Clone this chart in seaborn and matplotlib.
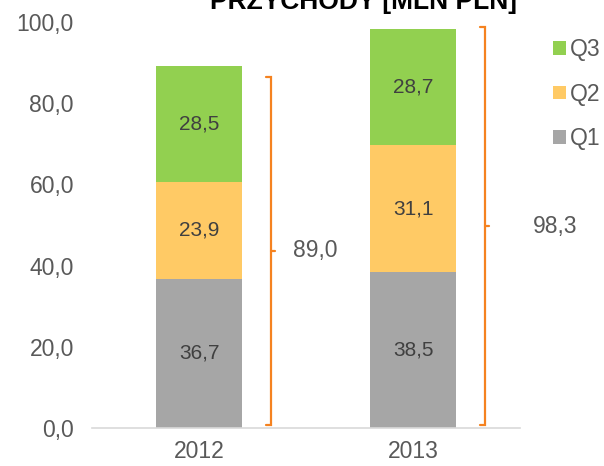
import matplotlib

matplotlib.use("Agg")
import matplotlib.pyplot as plt
from matplotlib.patches import Patch
import numpy as np
import pandas as pd
import seaborn as sns


YEARS = ["2012", "2013"]
Q1 = [36.7, 38.5]
Q2 = [23.9, 31.1]
Q3 = [28.5, 28.7]
TOTALS = [89.0, 98.3]
# bracket extents (the 2012 one stops short of the bar top)
BRACKET_LOW = [0.7, 0.7]
BRACKET_HIGH = [86.5, 98.8]
Y_TICKS = [0, 20, 40, 60, 80, 100]

COLORS = {"Q1": "#A6A6A6", "Q2": "#FFCA65", "Q3": "#92D050"}
ORANGE = "#F58220"
LABEL_DX = [0.105, 0.225]


def fmt(v: float) -> str:
    return f"{v:.1f}".replace(".", ",")


def main() -> None:
    sns.set_theme(style="white")
    plt.rcParams["font.family"] = ["Liberation Sans", "DejaVu Sans"]

    df = pd.DataFrame({"year": YEARS, "Q1": Q1, "Q2": Q2, "Q3": Q3})
    df["c1"] = df["Q1"]
    df["c2"] = df["c1"] + df["Q2"]
    df["c3"] = df["c2"] + df["Q3"]

    fig = plt.figure(figsize=(6.04, 4.66), dpi=100)
    ax = fig.add_axes([92 / 604, 38 / 466, 428 / 604, 406 / 466])

    for col, q in [("c3", "Q3"), ("c2", "Q2"), ("c1", "Q1")]:
        sns.barplot(data=df, x="year", y=col, color=COLORS[q], width=0.4,
                    saturation=1, errorbar=None, ax=ax, linewidth=0)

    # segment labels
    for i, row in df.iterrows():
        bottoms = [0, row["c1"], row["c2"]]
        for b, q in zip(bottoms, ["Q1", "Q2", "Q3"]):
            ax.text(i, b + row[q] / 2, fmt(row[q]), ha="center", va="center",
                    fontsize=15, color="#404040")

    # brackets with totals
    for i in range(len(YEARS)):
        bx = i + 0.335
        lo, hi = BRACKET_LOW[i], BRACKET_HIGH[i]
        mid = (lo + hi) / 2
        t = 0.022
        ax.plot([bx - t, bx, bx, bx - t], [hi, hi, lo, lo], color=ORANGE, lw=1.6,
                solid_joinstyle="miter", clip_on=False)
        ax.plot([bx, bx + t], [mid, mid], color=ORANGE, lw=1.6, clip_on=False)
        ax.text(bx + LABEL_DX[i], mid, fmt(TOTALS[i]), ha="left", va="center",
                fontsize=16.5, color="#595959")

    ax.set_xlim(-0.5, 1.5)
    ax.set_ylim(0, 100)
    ax.set_yticks(Y_TICKS)
    ax.set_yticklabels([fmt(v) for v in Y_TICKS])
    ax.set_xlabel("")
    ax.set_ylabel("")
    ax.tick_params(axis="both", length=0, labelsize=16.5, labelcolor="#595959")
    ax.tick_params(axis="y", pad=13)
    ax.tick_params(axis="x", pad=9)
    for side in ["top", "right", "left"]:
        ax.spines[side].set_visible(False)
    ax.spines["bottom"].set_color("#D9D9D9")
    ax.spines["bottom"].set_linewidth(1.2)
    ax.set_facecolor("none")

    handles = [Patch(facecolor=COLORS[q], edgecolor="none", label=q) for q in ["Q3", "Q2", "Q1"]]
    fig.legend(handles=handles, loc="upper left", bbox_to_anchor=(553 / 604, 1 - 38 / 466),
               frameon=False, fontsize=16.5, labelcolor="#595959", handlelength=0.55,
               handleheight=0.55, handletextpad=0.2, labelspacing=0.94, borderaxespad=0,
               borderpad=0)

    fig.text(364 / 604, 1 - 2.5 / 466, "PRZYCHODY [MLN PLN]", ha="center", va="center",
             fontsize=19, fontweight="bold", color="#000000")

    fig.savefig("out.png", dpi=100)
    plt.close(fig)


if __name__ == "__main__":
    main()
